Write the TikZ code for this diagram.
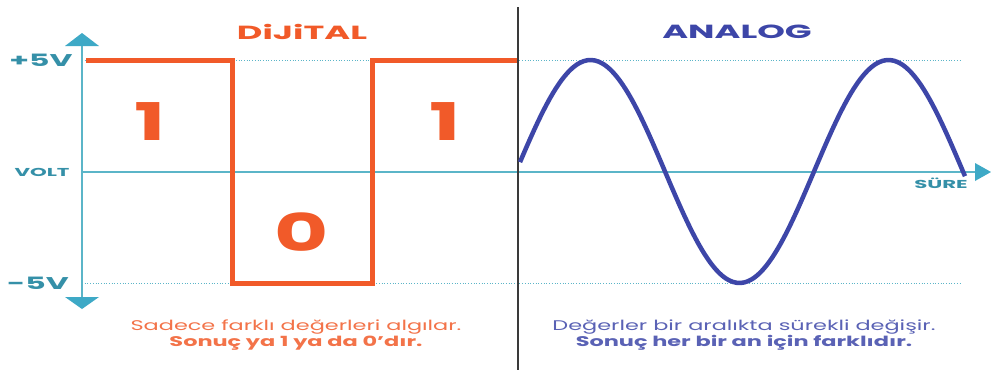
\documentclass[tikz,border=0pt]{standalone}
\usepackage{fontspec}
\setmainfont[FakeStretch=1.6]{Poppins}
\newfontfamily\genis[FakeStretch=1.85]{Poppins}
\usetikzlibrary{arrows.meta}
\definecolor{turuncu}{HTML}{F15A29}
\definecolor{lacivert}{HTML}{3D46A8}
\definecolor{turkuaz}{HTML}{5BB5C8}
\definecolor{okmavi}{HTML}{3EA9C6}
\definecolor{koyugri}{HTML}{3A3A3A}
\tikzset{
  baslik/.style={font=\genis\fontsize{19}{19}\selectfont\bfseries},
  seviye/.style={text=okmavi!85!black,font=\genis\fontsize{17}{17}\selectfont\bfseries},
  kucuk/.style={text=okmavi!85!black,font=\genis\fontsize{11.5}{11.5}\selectfont\bfseries},
  rakam/.style={text=turuncu,font=\fontsize{52}{52}\selectfont\bfseries},
  aciklama/.style={font=\fontsize{14}{14}\selectfont},
  aciklamakalin/.style={font=\fontsize{14}{14}\selectfont\bfseries},
  kesik/.style={turkuaz,line width=0.7pt,dotted},
}
\begin{document}
\begin{tikzpicture}[x=1pt,y=-1pt]
    \useasboundingbox[fill=white] (0,0) rectangle (991,370);
    % eksenler
    \coordinate (vust) at (82,46);
    \coordinate (valt) at (82,297);
    \coordinate (hsol) at (82,172);
    \coordinate (hsag) at (975,172);
    \draw[kesik] (82,60)--(960,60);
    \draw[kesik] (82,283)--(960,283);
    \draw[turkuaz,line width=1.3pt] (vust)--(valt);
    \draw[turkuaz,line width=1.1pt] (hsol)--(hsag);
    \fill[okmavi] (65,46)--(99,46)--(82,33)--cycle;
    \fill[okmavi] (65,297)--(99,297)--(82,309)--cycle;
    \fill[okmavi] (975,163)--(975,181)--(991,172)--cycle;
    \node[seviye] (p5) at (41,60) {+5V};
    \node[kucuk] (volt) at (42,172) {VOLT};
    \node[seviye] (m5) at (38,283) {-5V};
    \node[kucuk] (sure) at (941,183) {SÜRE};
    % ayirici
    \draw[koyugri,line width=2.2pt] (518,7)--(518,370);
    % dijital
    \draw[turuncu,line width=5pt] (86,60)--(232,60)--(232,283)--(372,283)--(372,60)--(517,60);
    \node[baslik,text=turuncu] (dig) at (302,32) {DiJiTAL};
    \node[rakam] (bir1) at (150,122) {1};
    \node[rakam] (sifir) at (302,232) {0};
    \node[rakam] (bir2) at (445,122) {1};
    % analog
    \draw[lacivert,line width=4.5pt,domain=520:965,samples=120,smooth]
      plot (\x,{171.5-111.5*sin((\x-516)/298*360)});
    \node[baslik,text=lacivert] (ana) at (737,32) {ANALOG};
    % aciklamalar
    \node[aciklama,text=turuncu!85] (d1) at (296,327) {Sadece farklı değerleri algılar.};
    \node[aciklamakalin,text=turuncu!85] (d2) at (296,343) {Sonuç ya 1 ya da 0’dır.};
    \node[aciklama,text=lacivert!85] (a1) at (744,327) {Değerler bir aralıkta sürekli değişir.};
    \node[aciklamakalin,text=lacivert!85] (a2) at (744,343) {Sonuç her bir an için farklıdır.};
\end{tikzpicture}
\end{document}
